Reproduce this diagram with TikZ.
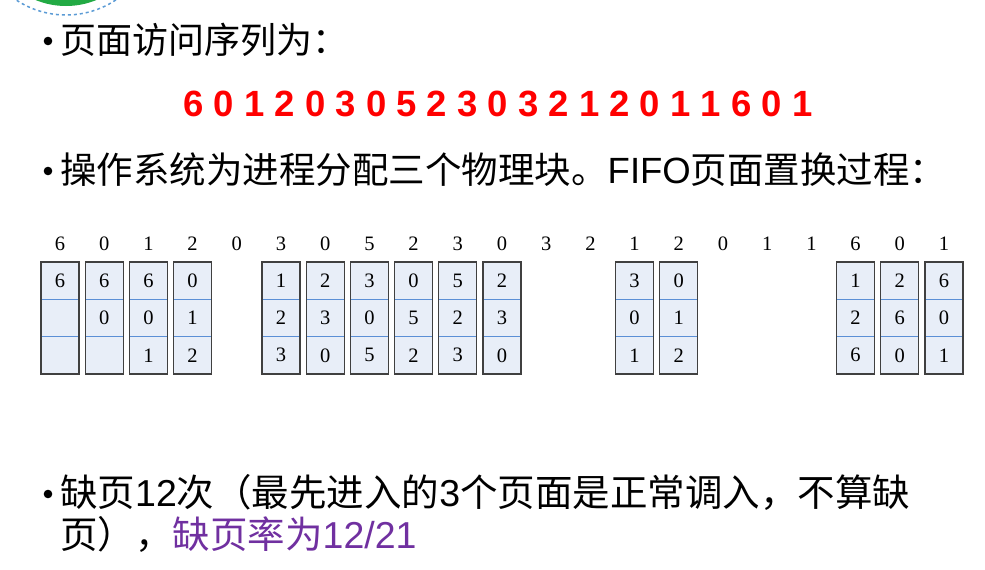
\documentclass[tikz,border=0pt]{standalone}
\usepackage{fontspec}
\setmainfont{Noto Sans CJK SC}
\newfontfamily\numserif{Liberation Serif}
\newfontfamily\arialfont{Liberation Sans}
\definecolor{boxfill}{HTML}{E8EEF8}
\definecolor{boxline}{HTML}{404040}
\definecolor{divline}{HTML}{5B8FD6}
\definecolor{purp}{HTML}{7030A0}
\definecolor{ballgreen}{HTML}{22AA44}
\definecolor{dashblue}{HTML}{5B9BD5}
\definecolor{seqred}{HTML}{FF0000}
\newcommand{\lat}[1]{{\arialfont #1}}
\tikzset{
  bigtext/.style={inner sep=0pt, anchor=base west, font=\fontsize{37.5}{42}\selectfont},
  redseq/.style={inner sep=0pt, anchor=base, text=seqred, font=\arialfont\bfseries\fontsize{36.5}{40}\selectfont},
  seqlab/.style={inner sep=0pt, anchor=center, font=\numserif\fontsize{20.5}{22}\selectfont},
  cellnum/.style={inner sep=0pt, anchor=center, font=\numserif\fontsize{20.5}{22}\selectfont},
  boxst/.style={fill=boxfill},
  boxborder/.style={draw=boxline, line width=1.3pt},
  divst/.style={draw=divline, line width=1pt},
  bulletdot/.style={fill=black}
}
\begin{document}
\begin{tikzpicture}[x=1pt,y=-1pt]
\useasboundingbox (0,0) rectangle (985,570);
\begin{scope}
  \clip (0,0) rectangle (985,570);
  \fill[ballgreen] (66,-74) circle (80pt);
  \draw[dashblue, dashed, line width=1.5pt] (66,-75) circle (90pt);
\end{scope}
% line 1
\fill[bulletdot] (48,41) circle (4.3pt);
\node[bigtext, font=\fontsize{36}{40}\selectfont] (l1) at (60,53) {页面访问序列为：};
\node[redseq] (seq) at (498,116) {6 0 1 2 0 3 0 5 2 3 0 3 2 1 2 0 1 1 6 0 1};
% line 2
\fill[bulletdot] (48,171) circle (4.3pt);
\node[bigtext, font=\fontsize{36.5}{40}\selectfont] (l2) at (60,183) {操作系统为进程分配三个物理块。\lat{FIFO}页面置换过程：};
% sequence labels
\foreach \i/\d in {0/6,1/0,2/1,3/2,4/0,5/3,6/0,7/5,8/2,9/3,10/0,11/3,12/2,13/1,14/2,15/0,16/1,17/1,18/6,19/0,20/1}{
  \pgfmathsetmacro\xc{60+44.2*\i}
  \node[seqlab] (s\i) at (\xc,244) {\d};
}
% boxes
\foreach \i/\a/\b/\c in {0/6/{}/{},1/6/0/{},2/6/0/1,3/0/1/2,5/1/2/3,6/2/3/0,7/3/0/5,8/0/5/2,9/5/2/3,10/2/3/0,13/3/0/1,14/0/1/2,18/1/2/6,19/2/6/0,20/6/0/1}{
  \pgfmathsetmacro\xc{60+44.2*\i}
  \fill[boxst] (\xc-19,262) rectangle (\xc+19,374);
  \draw[divst] (\xc-19,299.3) -- (\xc+19,299.3);
  \draw[divst] (\xc-19,336.7) -- (\xc+19,336.7);
  \draw[boxborder] (\xc-19,262) rectangle (\xc+19,374);
  \node[cellnum] (b\i a) at (\xc,280.7) {\a};
  \node[cellnum] (b\i b) at (\xc,318) {\b};
  \node[cellnum] (b\i c) at (\xc,355.3) {\c};
}
% line 3
\fill[bulletdot] (48,494) circle (4.3pt);
\node[bigtext] (l3) at (60,506) {缺页\lat{12}次（最先进入的\lat{3}个页面是正常调入，不算缺};
\node[bigtext] (l4) at (60,548) {页），\textcolor{purp}{缺页率为\lat{12/21}}};
\end{tikzpicture}
\end{document}
